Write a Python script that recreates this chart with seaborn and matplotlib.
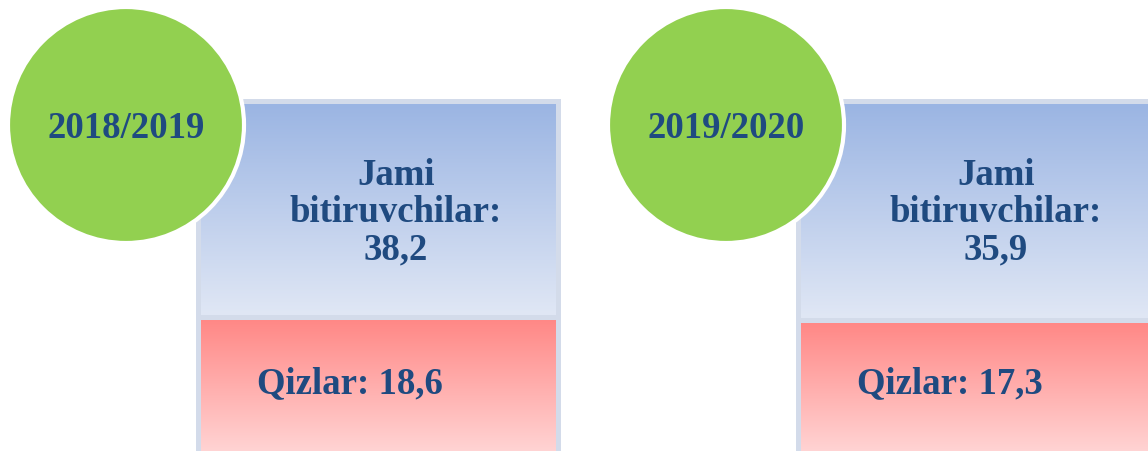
import matplotlib.pyplot as plt
import matplotlib.patches as mpatches
import numpy as np
import seaborn as sns

# Data
years = ['2018/2019', '2019/2020']
totals = ['38,2', '35,9']
girls = ['18,6', '17,3']
total_label = 'Jami\nbitiruvchilar:'
girls_label = 'Qizlar:'

sns.set_style('white')
plt.rcParams['font.family'] = ['Liberation Serif', 'DejaVu Serif']

W, H = 1148, 452
fig = plt.figure(figsize=(W / 100, H / 100), dpi=100)
ax = fig.add_axes([0, 0, 1, 1])
ax.set_xlim(0, W)
ax.set_ylim(H, 0)
ax.axis('off')

text_color = '#1f4a80'
green = '#92d050'
border = '#d3dbea'


def gradient(ax, x0, x1, y0, y1, top, bottom):
    c0 = np.array(plt.matplotlib.colors.to_rgb(top))
    c1 = np.array(plt.matplotlib.colors.to_rgb(bottom))
    t = np.linspace(0, 1, 256)[:, None]
    img = (c0 * (1 - t) + c1 * t)[:, None, :]
    ax.imshow(img, extent=[x0, x1, y1, y0], aspect='auto', zorder=2,
              interpolation='bilinear')


for i, (yr, tot, g) in enumerate(zip(years, totals, girls)):
    off = i * 600
    bx0, bx1 = 196 + off, 561 + off
    # outer border box
    ax.add_patch(mpatches.Rectangle((bx0, 100), bx1 - bx0, 400,
                                    facecolor=border, edgecolor='none', zorder=1))
    sep = 318 + i * 3
    gradient(ax, bx0 + 5, bx1 - 5, 105, sep - 2, '#9bb5e3', '#e0e7f5')
    gradient(ax, bx0 + 5, bx1 - 5, sep + 3, 460, '#ff8886', '#ffd8d8')

    ax.add_patch(mpatches.Circle((126 + off, 126), 118, facecolor=green,
                                 edgecolor='white', linewidth=3, zorder=4))
    ax.text(126 + off, 128, yr, ha='center', va='center', fontsize=26.5,
            fontweight='bold', color=text_color, zorder=5)

    ax.text(396 + off, 213, f'{total_label}\n{tot}', ha='center', va='center',
            fontsize=26.5, fontweight='bold', color=text_color,
            linespacing=1.09, zorder=5)
    ax.text(350 + off, 384, f'{girls_label} {g}', ha='center', va='center',
            fontsize=26.5, fontweight='bold', color=text_color, zorder=5)

ax.set_xlim(0, W)
ax.set_ylim(H, 0)
fig.savefig('out.png', dpi=100)
